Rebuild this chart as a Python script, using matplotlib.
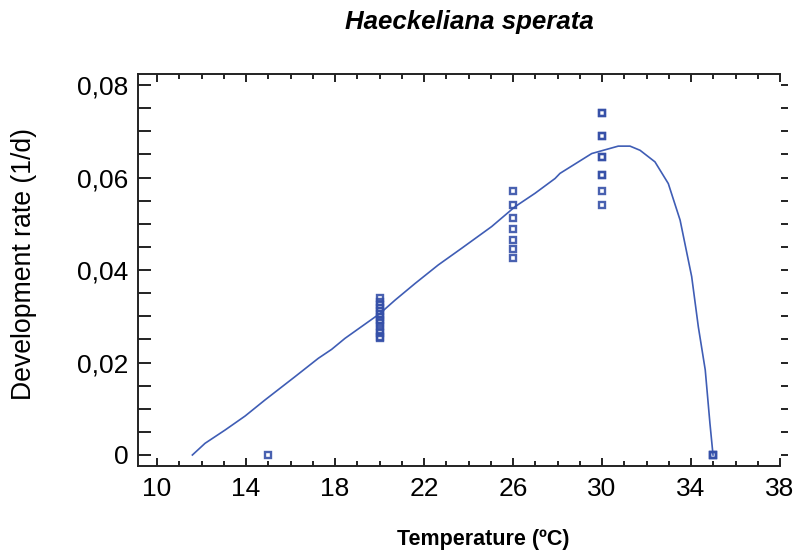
import matplotlib
matplotlib.use('Agg')
import matplotlib.pyplot as plt
from matplotlib.ticker import MultipleLocator, FuncFormatter

plt.rcParams['font.family'] = ['Liberation Sans', 'DejaVu Sans']

# observed rates (1/d) at each rearing temperature
t15 = [15]
r15 = [0.0]
t20 = [20] * 14
r20 = [0.0339, 0.0330, 0.0324, 0.0318, 0.0312, 0.0305, 0.0298, 0.0292, 0.0287, 0.0279,
       0.0270, 0.0263, 0.0256, 0.0254]
t26 = [26] * 7
r26 = [0.0571, 0.0541, 0.0512, 0.0489, 0.0465, 0.0446, 0.0426]
t30 = [30] * 10
r30 = [0.0739, 0.0739, 0.0690, 0.0690, 0.0644, 0.0644, 0.0606, 0.0606, 0.0570, 0.0541]
t35 = [35, 35, 35]
r35 = [0.0, 0.0, 0.0]

# fitted curve
curve_t = [11.59, 12.16, 13.06, 13.96, 14.85, 16.20, 17.25, 17.85, 18.45, 20.02, 20.70,
           21.60, 22.64, 23.69, 25.04, 26.09, 26.99, 27.89, 28.11, 29.54, 30.73, 31.26,
           31.71, 32.38, 32.98, 33.51, 34.03, 34.33, 34.64, 34.85, 34.99]
curve_r = [0.0, 0.00253, 0.0054, 0.00843, 0.01189, 0.01693, 0.02091, 0.02285, 0.02523, 0.0306, 0.0335,
           0.0371, 0.0411, 0.0447, 0.0494, 0.0537, 0.0566, 0.0598, 0.0609, 0.0652, 0.0668, 0.0668,
           0.0659, 0.0634, 0.0587, 0.0508, 0.0386, 0.0277, 0.0184, 0.0069, 0.0]

xticks = [10, 14, 18, 22, 26, 30, 34, 38]
yticks = [0, 0.02, 0.04, 0.06, 0.08]

blue = '#3550a8'

fig = plt.figure(figsize=(7.98, 5.6), dpi=100)
ax = fig.add_axes([138/798, 1 - 466/560, (780 - 138)/798, (466 - 74)/560])

ax.plot(curve_t, curve_r, color='#3f5db5', lw=1.2)
for tt, rr in [(t15, r15), (t20, r20), (t26, r26), (t30, r30), (t35, r35)]:
    ax.plot(tt, rr, ls='none', marker='s', ms=5.0, mfc='none', mec=blue, mew=1.7, alpha=0.9)

ax.set_xlim(9.146, 38.0)
ax.set_ylim(-0.00238, 0.0824)
ax.set_xticks(xticks)
ax.xaxis.set_minor_locator(MultipleLocator(1))
ax.set_yticks(yticks)
ax.yaxis.set_minor_locator(MultipleLocator(0.005))
ax.yaxis.set_major_formatter(FuncFormatter(lambda v, p: '0' if abs(v) < 1e-9 else f'{v:.2f}'.replace('.', ',')))

ax.spines['right'].set_visible(False)
for s in ['left', 'bottom', 'top']:
    ax.spines[s].set_linewidth(1.4)
    ax.spines[s].set_color('#222222')

ax.tick_params(axis='x', which='both', direction='in', top=True, bottom=True,
               width=1.4, color='#222222', labelsize=19, pad=8)
ax.tick_params(axis='x', which='major', length=5.6)
ax.tick_params(axis='x', which='minor', length=3.3)
ax.tick_params(axis='y', which='both', direction='in', left=True, right=False,
               width=1.4, color='#222222', labelsize=19, pad=7, length=9)

sec = ax.secondary_yaxis(1.012)
sec.set_yticks(yticks)
sec.yaxis.set_minor_locator(MultipleLocator(0.005))
sec.spines['right'].set_visible(False)
sec.tick_params(which='both', direction='in', length=5, width=1.4, color='#222222', labelright=False)

fig.text(469.5/798, 1 - 22/560, 'Haeckeliana sperata', ha='center', va='center',
         fontsize=18.6, fontweight='bold', fontstyle='italic')
fig.text(483/798, 1 - 540/560, 'Temperature (ºC)', ha='center', va='center',
         fontsize=15.5, fontweight='bold')
fig.text(24/798, 1 - 264/560, 'Development rate (1/d)', ha='center', va='center',
         rotation=90, fontsize=19.2)

fig.savefig('out.png', dpi=100)
